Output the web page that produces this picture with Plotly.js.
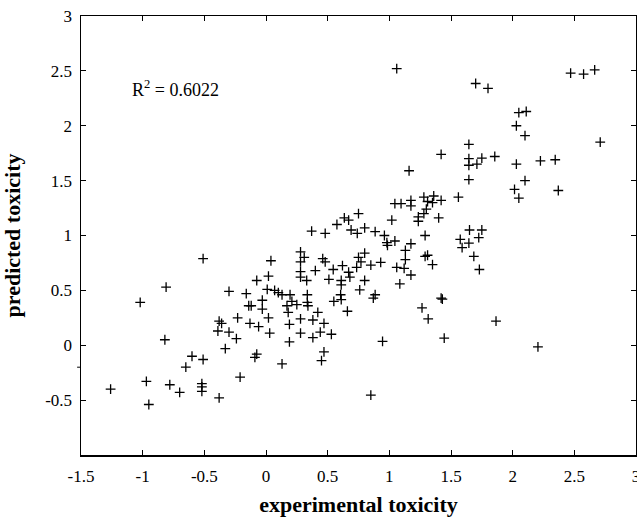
<!DOCTYPE html>
<html>
<head>
<meta charset="utf-8">
<script src="https://cdn.plot.ly/plotly-3.0.1.min.js"></script>
<style>html,body{margin:0;padding:0;background:#fff;}#chart{width:637px;height:517px;}</style>
</head>
<body>
<div id="chart"></div>
<script>
// experimental toxicity (x) and predicted toxicity (y)
const expX = [
  -0.51,-1.02,-0.81,-0.30,-0.38,-0.36,-0.39,-0.30,-0.23,-0.24,-0.82,-0.60,-0.51,-0.65,-0.33,-0.21,-1.26,-0.97,-0.95,-0.78,-0.70,-0.52,-0.52,-0.52,-0.38,
  0.37,0.48,0.28,0.31,0.28,0.46,0.48,0.04,0.28,0.28,0.33,0.40,0.545,0.51,0.02,-0.075,-0.16,0.01,0.07,0.10,0.13,0.195,0.335,0.21,0.25,0.335,0.34,-0.03,-0.03,-0.14,-0.12,0.17,0.18,0.42,0.55,-0.13,-0.06,0.02,0.28,0.38,0.47,0.19,0.03,0.28,0.44,0.53,0.38,0.19,-0.075,-0.09,0.13,0.47,0.45,
  1.06,1.16,1.42,1.045,1.095,1.175,1.175,1.28,1.36,1.31,1.35,1.42,1.30,1.28,1.235,1.235,1.40,1.02,
  0.75,0.635,0.67,0.575,0.69,0.74,0.80,0.885,0.96,0.98,0.985,1.045,1.175,1.13,1.29,1.29,1.31,1.35,1.13,1.06,1.12,1.175,1.085,0.93,0.85,0.80,0.75,0.77,0.735,0.62,0.67,0.68,0.61,0.61,0.80,0.76,0.885,0.87,0.605,0.61,0.66,1.42,1.43,1.265,1.315,0.945,0.85,
  1.70,1.80,2.47,2.575,2.665,2.05,2.11,2.03,2.10,2.71,1.645,1.645,1.645,1.71,1.75,1.855,2.03,2.225,2.345,1.645,2.10,2.015,2.05,2.37,1.56,1.65,1.75,1.725,1.575,1.645,1.59,1.685,1.73,1.865,1.445,2.205
];
const predY = [
  0.79,0.39,0.53,0.49,0.22,0.20,0.13,0.12,0.25,0.06,0.05,-0.10,-0.13,-0.20,-0.03,-0.29,-0.40,-0.33,-0.54,-0.36,-0.43,-0.35,-0.38,-0.42,-0.48,
  1.04,1.02,0.85,0.80,0.76,0.79,0.76,0.77,0.67,0.62,0.59,0.68,0.69,0.60,0.63,0.59,0.47,0.51,0.50,0.48,0.46,0.46,0.46,0.40,0.37,0.39,0.36,0.41,0.33,0.36,0.36,0.36,0.30,0.30,0.40,0.20,0.17,0.25,0.24,0.23,0.20,0.19,0.11,0.11,0.12,0.10,0.07,0.03,-0.08,-0.11,-0.17,-0.06,-0.14,
  2.52,1.59,1.74,1.29,1.29,1.32,1.27,1.35,1.36,1.31,1.30,1.32,1.24,1.20,1.17,1.13,1.16,1.14,
  1.20,1.16,1.14,1.10,1.05,1.02,1.07,1.035,1.00,0.935,0.91,0.95,0.925,0.865,1.00,0.81,0.82,0.735,0.78,0.71,0.70,0.64,0.56,0.755,0.73,0.84,0.80,0.76,0.71,0.725,0.665,0.62,0.59,0.55,0.59,0.505,0.46,0.43,0.46,0.415,0.31,0.43,0.42,0.34,0.24,0.035,-0.455,
  2.385,2.34,2.48,2.47,2.51,2.12,2.13,2.00,1.91,1.85,1.83,1.70,1.64,1.65,1.705,1.72,1.65,1.68,1.69,1.51,1.50,1.42,1.34,1.41,1.35,1.05,1.05,0.98,0.965,0.93,0.89,0.81,0.69,0.22,0.065,-0.015
];
const xTickVals = [-1.5,-1,-0.5,0,0.5,1,1.5,2,2.5,3];
const xTickText = ['-1.5','-1','-0.5','0','0.5','1','1.5','2','2.5','3'];
const yTickVals = [-1,-0.5,0,0.5,1,1.5,2,2.5,3];
const yTickText = ['','-0.5','0','0.5','1','1.5','2','2.5','3'];
const r2Label = 'R<sup>2</sup> = 0.6022';

const serif = 'Liberation Serif, Times New Roman, serif';
const trace = {
  x: expX, y: predY, type: 'scatter', mode: 'markers',
  marker: {symbol: 'cross-thin', size: 7, color: '#000', line: {width: 1.3, color: '#000'}},
  hoverinfo: 'x+y'
};
const axisCommon = {
  showline: true, linecolor: '#000', linewidth: 1.5, mirror: 'ticks',
  ticks: 'inside', ticklen: 5, tickwidth: 1, tickcolor: '#000',
  showgrid: false, zeroline: false, ticklabeloverflow: 'allow',
  tickfont: {family: serif, size: 17, color: '#000'}
};
const layout = {
  width: 637, height: 517,
  margin: {l: 81, r: 1, t: 16, b: 62},
  paper_bgcolor: '#fff', plot_bgcolor: '#fff',
  showlegend: false,
  xaxis: Object.assign({}, axisCommon, {
    range: [-1.5, 3], tickmode: 'array', tickvals: xTickVals, ticktext: xTickText,
    ticklabelstandoff: 5,
    title: {text: 'experimental toxicity', font: {family: serif, size: 22, color: '#000', weight: 'bold'}, standoff: 20}
  }),
  yaxis: Object.assign({}, axisCommon, {
    range: [-1, 3], tickmode: 'array', tickvals: yTickVals, ticktext: yTickText,
    ticklabelstandoff: 4,
    title: {text: 'predicted toxicity', font: {family: serif, size: 22, color: '#000', weight: 'bold'}, standoff: 20}
  }),
  annotations: [{
    x: -1.1, y: 2.34, xref: 'x', yref: 'y', xanchor: 'left', yanchor: 'middle',
    text: r2Label, showarrow: false, font: {family: serif, size: 18, color: '#000'}
  }],
  shapes: [{type: 'line', xref: 'paper', yref: 'y', x0: -0.007, x1: 0, y0: -0.2, y1: -0.2, line: {color: '#000', width: 1}}]
};
Plotly.newPlot('chart', [trace], layout, {displayModeBar: false, staticPlot: true});
</script>
</body>
</html>
